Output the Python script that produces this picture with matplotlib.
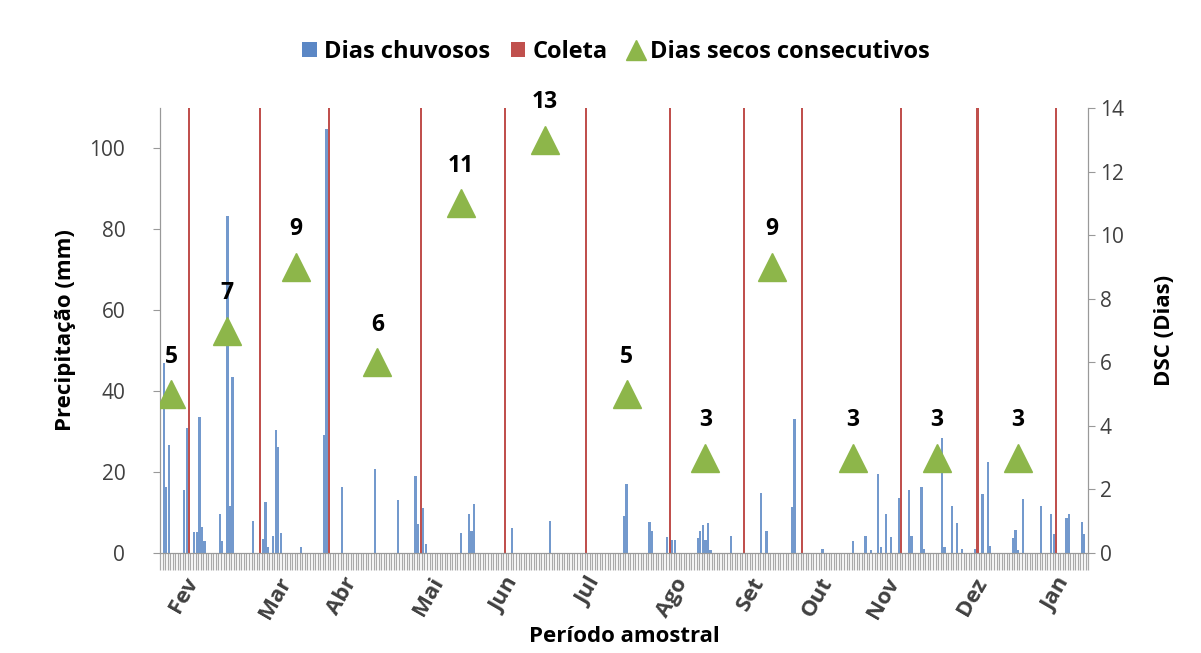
#!/usr/bin/env python3
"""Daily rainfall, sampling dates and consecutive dry days over the sampling period."""
import matplotlib

matplotlib.use("Agg")
import matplotlib.pyplot as plt
from matplotlib.lines import Line2D
from matplotlib.patches import Patch
import numpy as np

plt.rcParams.update({"font.family": ["Open Sans", "DejaVu Sans"]})

N_DAYS = 365

# day index of each rainy day and its rainfall (mm)
rain_days = [1, 2, 3, 9, 10, 13, 14, 15, 16, 17, 23, 24, 26, 27, 28, 36, 40, 41, 42,
             44, 45, 46, 47, 55, 64, 65, 71, 84, 93, 100, 101, 103, 104, 118, 121, 122,
             123, 138, 153, 182, 183, 192, 193, 199, 201, 202, 211, 212, 213, 214, 215,
             216, 224, 236, 238, 248, 249, 260, 272, 277, 279, 282, 283, 285, 287, 290,
             294, 295, 299, 300, 307, 308, 311, 313, 315, 320, 323, 325, 326, 335, 336,
             337, 339, 346, 350, 351, 356, 357, 362, 363]
rain_mm = [47, 16.3, 26.6, 15.6, 30.9, 5.1, 5.1, 33.6, 6.5, 3.0, 9.6, 3.0, 83.4, 11.6,
           43.6, 8.0, 3.4, 12.5, 1.6, 4.3, 30.4, 26.2, 4.9, 1.6, 29.2, 104.9, 16.4, 20.8,
           13.1, 19.1, 7.2, 11.2, 2.2, 5.0, 9.6, 5.5, 12.1, 6.3, 8.0, 9.2, 17.0, 7.6, 5.4,
           4.0, 3.1, 3.1, 3.6, 5.4, 6.9, 3.3, 7.5, 0.7, 4.2, 14.9, 5.4, 11.5, 33.2, 1.0,
           3.0, 4.3, 0.7, 19.6, 1.6, 9.6, 4.0, 13.5, 15.6, 4.3, 16.4, 1.0, 28.4, 1.6, 11.6,
           7.5, 1.0, 1.0, 14.5, 22.4, 1.8, 3.6, 5.6, 0.8, 13.3, 11.6, 9.6, 4.6, 8.6, 9.6,
           7.6, 4.6]

# sampling (coleta) days
coleta_days = [11, 39, 66, 102, 135, 167, 200, 229, 252, 291, 321, 352]

# consecutive dry days (DSC)
dsc_days = [4, 26, 53, 85, 118, 151, 183, 214, 240, 272, 305, 337]
dsc_values = [5, 7, 9, 6, 11, 13, 5, 3, 9, 3, 3, 3]

month_labels = ["Fev", "Mar", "Abr", "Mai", "Jun", "Jul", "Ago", "Set", "Out", "Nov", "Dez", "Jan"]
month_days = [9, 45, 71, 105, 135, 168, 201, 232, 258, 284, 319, 352]

BLUE = "#5B87C5"
RED = "#C0504D"
GREEN = "#8DB64A"
TXT = "#404040"

fig = plt.figure(figsize=(12.01, 6.53), dpi=100)
ax = fig.add_axes([0.1332, 0.1531, 0.7728, 0.6815])
ax2 = ax.twinx()

ax.bar(coleta_days, [110] * len(coleta_days), width=0.8, color=RED, zorder=1)
ax.bar(rain_days, rain_mm, width=0.9, color=BLUE, alpha=0.85, zorder=2)

ax.set_xlim(-0.5, N_DAYS - 0.5)
ax.set_ylim(0, 110)
ax.set_yticks(range(0, 101, 20))
ax.set_ylabel("Precipitação (mm)", fontsize=16, fontweight="bold", color="black", labelpad=10)

ax.set_xticks(month_days)
ax.set_xticklabels(month_labels, rotation=60, ha="center", va="top",
                   fontsize=16, fontweight="bold", color=TXT)
ax.tick_params(axis="x", which="major", length=0, pad=15)
ax.set_xticks(np.arange(-0.5, N_DAYS, 1), minor=True)
ax.tick_params(axis="x", which="minor", length=12, width=0.9, color="#aaaaaa", direction="out")
ax.tick_params(axis="y", labelsize=15, labelcolor=TXT, color="#999999", length=5, pad=20)
ax.set_xlabel("Período amostral", fontsize=16, fontweight="bold", labelpad=2)

ax2.plot(dsc_days, dsc_values, linestyle="none", marker="^", markersize=20,
         color=GREEN, markeredgecolor=GREEN, zorder=3)
for d, v in zip(dsc_days, dsc_values):
    ax2.annotate(str(v), (d, v), xytext=(0, 27), textcoords="offset points",
                 ha="center", va="center", fontsize=16.5, fontweight="bold", color="black")
ax2.set_ylim(0, 14)
ax2.set_yticks(range(0, 15, 2))
ax2.tick_params(axis="y", labelsize=15, labelcolor=TXT, color="#999999", length=5)
ax2.set_ylabel("DSC (Dias)", fontsize=16, fontweight="bold", labelpad=22, rotation=90)

for a in (ax, ax2):
    a.spines["top"].set_visible(False)
    for side in ("left", "right", "bottom"):
        a.spines[side].set_color("#999999")

handles = [
    Patch(facecolor=BLUE, label="Dias chuvosos"),
    Patch(facecolor=RED, label="Coleta"),
    Line2D([], [], linestyle="none", marker="^", markersize=15, color=GREEN,
           label="Dias secos consecutivos"),
]
fig.legend(handles=handles, loc="center", bbox_to_anchor=(0.513, 0.92), ncol=3,
           frameon=False, handlelength=0.6, handleheight=0.6, handletextpad=0.3,
           columnspacing=0.9, prop={"weight": "bold", "size": 17})

fig.savefig("out.png", dpi=100, facecolor="white")
